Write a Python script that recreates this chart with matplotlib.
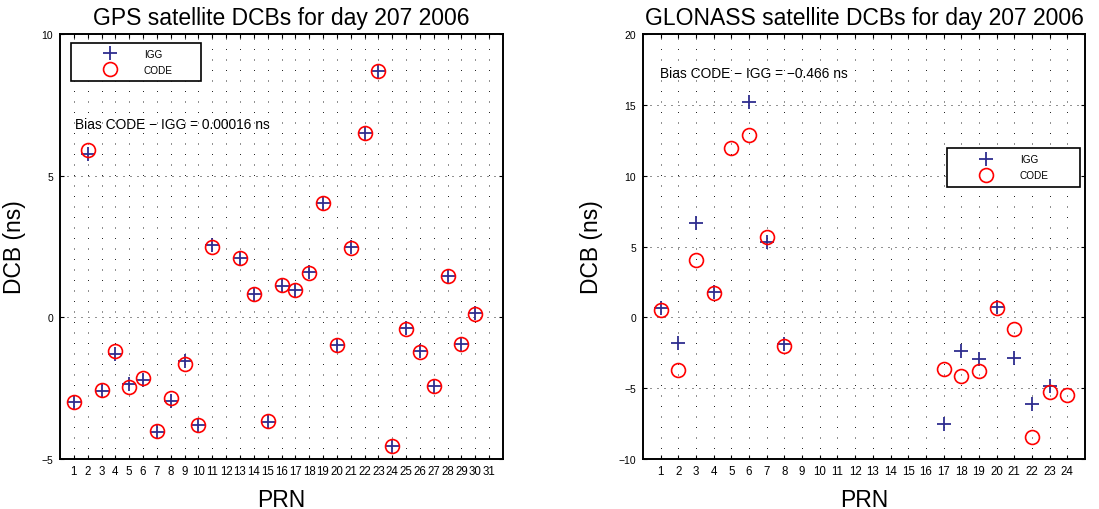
import numpy as np
import matplotlib
matplotlib.use("Agg")
import matplotlib.pyplot as plt

plt.rcParams['font.family'] = ['Liberation Sans', 'DejaVu Sans']

nan = np.nan
# ---- GPS data ----
gps_prn = list(range(1, 32))
gps_igg = [-3.0, 5.75, -2.6, -1.3, -2.35, -2.2, -4.05, -2.95, -1.55, -3.79,
           2.55, nan, 2.1, 0.84, -3.68, 1.12, 0.98, 1.6, 4.04, -0.98,
           2.48, 6.52, 8.69, -4.55, -0.38, -1.18, -2.44, 1.47, -0.93, 0.14, nan]
gps_code = [-3.0, 5.9, -2.55, -1.2, -2.45, -2.15, -4.0, -2.85, -1.65, -3.79,
            2.48, nan, 2.09, 0.835, -3.65, 1.13, 0.98, 1.56, 4.03, -0.98,
            2.46, 6.52, 8.69, -4.53, -0.41, -1.22, -2.41, 1.45, -0.93, 0.12, nan]
gps_ticks = list(range(1, 32))
gps_yticks = [-5, 0, 5, 10]

# ---- GLONASS data ----
glo_prn = list(range(1, 25))
glo_igg = [0.65, -1.84, 6.69, 1.81, nan, 15.21, 5.35, -1.88,
           nan, nan, nan, nan, nan, nan, nan, nan,
           -7.53, -2.35, -2.94, 0.71, -2.85, -6.14, -4.85, nan]
glo_code = [0.5, -3.69, 4.07, 1.74, 11.95, 12.89, 5.70, -2.0,
            nan, nan, nan, nan, nan, nan, nan, nan,
            -3.65, -4.16, -3.76, 0.64, -0.85, -8.42, -5.3, -5.45]
glo_ticks = list(range(1, 25))
glo_yticks = [-10, -5, 0, 5, 10, 15, 20]

W, H = 1099, 510
fig = plt.figure(figsize=(W / 100, H / 100), dpi=100)

def px_axes(x0, x1, y0, y1):
    return fig.add_axes([x0 / W, 1 - y1 / H, (x1 - x0) / W, (y1 - y0) / H])

ax1 = px_axes(60, 503, 35, 460)
ax2 = px_axes(643, 1085, 35, 460)

blue = '#2e2d8f'
red = '#ff0000'

def style(ax, prn, igg, code, xt, yt, xlim, ylim, title, bias_text, bias_xy,
          leg_bbox, ylab_x):
    ax.plot(prn, igg, linestyle='none', marker='+', markersize=10,
            markeredgewidth=1.3, color=blue, label='IGG', zorder=3)
    ax.plot(prn, code, linestyle='none', marker='o', markersize=10,
            markeredgewidth=1.2, markerfacecolor='none', markeredgecolor=red,
            label='CODE', zorder=4)
    ax.set_xlim(*xlim)
    ax.set_ylim(*ylim)
    ax.set_xticks(xt)
    ax.set_yticks(yt)
    ax.tick_params(direction='in', top=True, right=True, length=3,
                   width=0.8, color='k')
    ax.tick_params(axis='y', pad=5, labelsize=7.5)
    ax.tick_params(axis='x', pad=4.5, labelsize=8.3)
    for s in ax.spines.values():
        s.set_linewidth(1.4)
    ax.grid(axis='x', color='k', linewidth=0.72, linestyle=(0, (1, 9.5)), alpha=0.85)
    ax.grid(axis='y', color='k', linewidth=0.72, linestyle=(0, (1, 6)), alpha=0.85)
    ax.set_axisbelow(True)
    ax.set_title(title, fontsize=16.5, pad=7)
    ax.set_xlabel('PRN', fontsize=16.5)
    ax.set_ylabel('DCB (ns)', fontsize=16.5)
    ax.xaxis.set_label_coords(0.5, -0.068)
    ax.xaxis.label.set_verticalalignment('top')
    ax.yaxis.set_label_coords(ylab_x, 0.5)
    ax.text(bias_xy[0], bias_xy[1], bias_text, fontsize=9.9, va='center', ha='left')
    leg = ax.legend(loc='upper left', bbox_to_anchor=leg_bbox, mode='expand',
                    fontsize=7.2, frameon=True, fancybox=False,
                    edgecolor='k', framealpha=1, borderpad=0.62,
                    handlelength=6.7, handletextpad=0.0, labelspacing=0.62,
                    borderaxespad=0)
    leg.get_frame().set_linewidth(1.2)

style(ax1, gps_prn, gps_igg, gps_code, gps_ticks, gps_yticks, (0, 32), (-5, 10),
      'GPS satellite DCBs for day 207 2006',
      'Bias CODE \u2212 IGG = 0.00016 ns', (1.08, 6.83),
      (0.024, 0.892, 0.2935, 0.088), -0.076)
style(ax2, glo_prn, glo_igg, glo_code, glo_ticks, glo_yticks, (0, 25), (-10, 20),
      'GLONASS satellite DCBs for day 207 2006',
      'Bias CODE \u2212 IGG = \u22120.466 ns', (0.96, 17.23),
      (0.687, 0.643, 0.301, 0.089), -0.0905)

fig.savefig('out.png', dpi=100)
